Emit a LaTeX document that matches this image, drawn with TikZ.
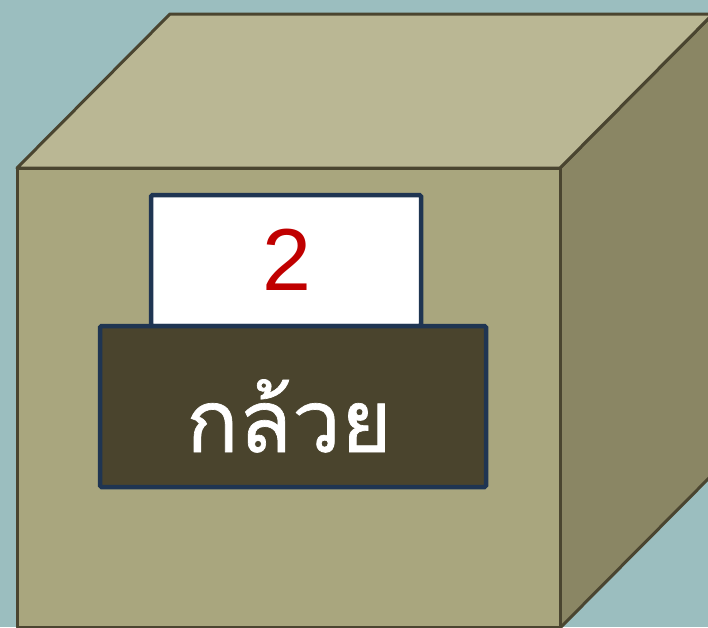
\documentclass[tikz,border=0pt]{standalone}
\usepackage{fontspec}
\setmainfont{Liberation Sans}
\newfontfamily\thaifont[Script=Thai,FakeBold=0.8]{Loma}
\definecolor{bgc}{HTML}{9BBEBF}
\definecolor{topc}{HTML}{BAB794}
\definecolor{frontc}{HTML}{A9A67E}
\definecolor{sidec}{HTML}{8A8664}
\definecolor{edgec}{HTML}{4A4530}
\definecolor{navyc}{HTML}{1F3552}
\definecolor{labelc}{HTML}{4A442D}
\definecolor{numc}{HTML}{C00000}
\tikzset{
  face/.style={draw=edgec, line width=3pt, line join=round},
  cardbox/.style={draw=navyc, line width=4.5pt, rounded corners=1.5pt},
}
\begin{document}
\begin{tikzpicture}[x=1pt,y=-1pt]
\useasboundingbox (0,0) rectangle (708,627);
\fill[bgc] (0,0) rectangle (708,627);
\begin{scope}
\clip (0,0) rectangle (708,627);
% right face
\path[face, fill=sidec] (560,168) -- (713,14) -- (713,474) -- (560,628) -- cycle;
% top face
\path[face, fill=topc] (17,168) -- (170,14) -- (713,14) -- (560,168) -- cycle;
% front face
\path[face, fill=frontc] (17,168) rectangle (560,627);
\end{scope}
% white card
\node[cardbox, fill=white, minimum width=270pt, minimum height=131pt, inner sep=0pt] (card) at (286,260.5) {};
\node[text=numc, font=\fontsize{88}{88}\selectfont, inner sep=0pt] (num) at (287,260) {2};
% label box
\node[cardbox, fill=labelc, minimum width=386pt, minimum height=161pt, inner sep=0pt] (label) at (293,406.5) {};
\node[text=white, font=\thaifont\fontsize{87}{87}\selectfont, anchor=base, inner sep=0pt] (word) at (289,452) {กล้วย};
\end{tikzpicture}
\end{document}
